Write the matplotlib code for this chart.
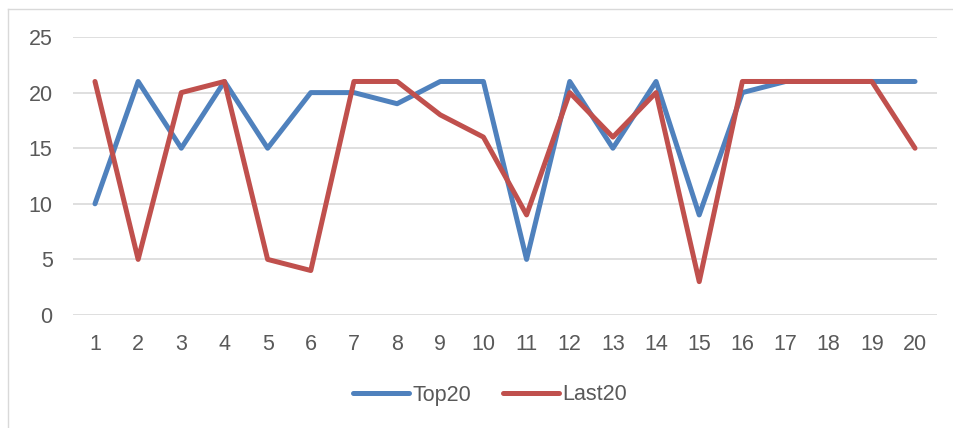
import matplotlib
matplotlib.use("Agg")
import matplotlib.pyplot as plt
from matplotlib.lines import Line2D

categories = list(range(1, 21))
top20 = [10, 21, 15, 21, 15, 20, 20, 19, 21, 21, 5, 21, 15, 21, 9, 20, 21, 21, 21, 21]
last20 = [21, 5, 20, 21, 5, 4, 21, 21, 18, 16, 9, 20, 16, 20, 3, 21, 21, 21, 21, 15]
yticks = [0, 5, 10, 15, 20, 25]

plt.rcParams['font.family'] = ['Liberation Sans', 'DejaVu Sans']
text_color = '#595959'
grid_color = '#D9D9D9'

W, H = 954, 428
fig = plt.figure(figsize=(W / 100, H / 100), dpi=100)
ax = fig.add_axes([73.4 / W, (H - 315) / H, (936.6 - 73.4) / W, (315 - 37) / H])

x = list(range(len(categories)))
ax.plot(x, top20, color='#4F81BD', lw=3.6, solid_joinstyle='round', solid_capstyle='round', label='Top20', zorder=3)
ax.plot(x, last20, color='#C0504D', lw=3.6, solid_joinstyle='round', solid_capstyle='round', label='Last20', zorder=3)

ax.set_xlim(-0.5, len(categories) - 0.5)
ax.set_ylim(0, 25)
ax.set_yticks(yticks)
ax.set_xticks(x)
ax.set_xticklabels([str(c) for c in categories])
ax.yaxis.grid(True, color=grid_color, lw=1.2)
ax.set_axisbelow(True)
for s in ax.spines.values():
    s.set_visible(False)
ax.tick_params(axis='both', length=0, labelsize=15.5, colors=text_color)
ax.tick_params(axis='y', pad=15)
ax.tick_params(axis='x', pad=14)

leg = fig.legend(loc='center', bbox_to_anchor=(490 / W, (H - 395) / H), ncol=2,
                 frameon=False, fontsize=15.5, handlelength=2.6, handletextpad=0.15,
                 columnspacing=1.5)
for line in leg.get_lines():
    line.set_linewidth(3.6)
    line.set_solid_capstyle('round')
for t in leg.get_texts():
    t.set_color(text_color)

# chart area border (top and left edges)
fig.add_artist(Line2D([8.5 / W, 1], [1 - 8.5 / H, 1 - 8.5 / H], transform=fig.transFigure, color=grid_color, lw=1))
fig.add_artist(Line2D([8.5 / W, 8.5 / W], [0, 1 - 8.5 / H], transform=fig.transFigure, color=grid_color, lw=1))

fig.savefig('out.png', dpi=100, facecolor='white')
